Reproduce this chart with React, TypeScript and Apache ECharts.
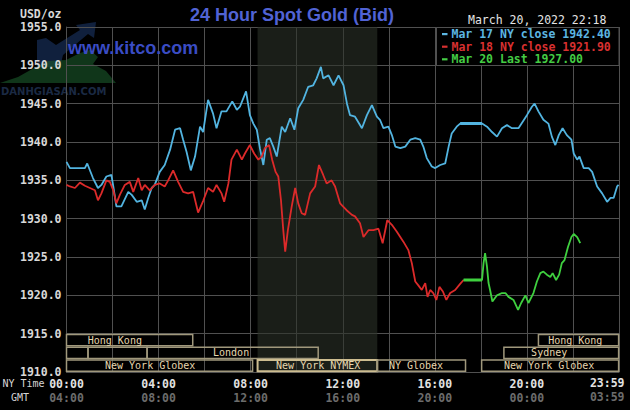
import React, { useEffect, useRef } from 'react';
import * as echarts from 'echarts';

// Minutes after midnight (NY time) and spot gold bid values
const cyanT = [0,9,27,48,54,69,82,91,104,117,122,130,143,161,170,183,196,204,213,222,230,243,256,270,283,296,304,313,324,335,348,356,369,382,391,404,417,432,444,452,468,478,487,496,504,513,522,530,539,548,561,570,583,594,604,617,630,643,652,663,669,683,696,709,722,731,739,752,770,783,796,809,817,826,839,848,857,870,883,896,909,922,930,939,952,961,974,987,996,1004,1017,1026,1083,1096,1109,1122,1135,1148,1161,1178,1200,1213,1220,1230,1243,1256,1265,1274,1283,1293,1304,1316,1322,1331,1337,1348,1361,1370,1383,1396,1409,1418,1426,1435,1439];
const cyanV = [1937.4,1936.6,1936.6,1936.6,1937.2,1935.3,1934.0,1934.4,1935.5,1935.7,1934.2,1931.6,1931.6,1933.5,1933.1,1932.2,1932.4,1931.2,1932.7,1934.0,1934.4,1936.1,1937.0,1939.0,1941.6,1941.8,1940.3,1938.7,1936.3,1938.1,1942.0,1941.3,1945.5,1943.7,1941.8,1944.0,1944.0,1945.3,1944.2,1944.6,1946.6,1943.5,1942.4,1941.6,1939.2,1937.0,1940.3,1940.5,1939.4,1938.1,1942.0,1941.3,1943.1,1941.6,1944.4,1945.5,1947.2,1947.4,1948.3,1949.8,1948.3,1948.7,1947.4,1948.7,1947.4,1945.0,1943.5,1943.3,1941.8,1943.5,1944.8,1943.3,1942.9,1941.8,1942.0,1940.9,1939.4,1939.2,1939.4,1940.3,1940.5,1940.3,1939.4,1937.9,1936.8,1936.6,1937.0,1937.2,1939.4,1941.1,1942.0,1942.4,1942.4,1942.0,1941.3,1940.7,1941.8,1942.2,1941.8,1941.8,1943.5,1944.6,1945.0,1944.0,1942.9,1942.4,1940.7,1939.6,1940.9,1941.8,1940.9,1940.3,1938.5,1937.7,1938.1,1936.6,1936.6,1936.1,1934.2,1933.3,1932.2,1932.7,1932.7,1934.2,1934.4];

const redT = [0,9,22,35,48,61,74,82,91,104,113,122,130,139,152,165,174,187,196,204,217,230,243,256,265,278,291,304,317,330,343,356,369,382,391,404,411,422,430,444,457,465,478,489,500,509,517,528,536,545,552,559,565,570,577,587,596,604,613,622,635,648,658,669,678,691,700,713,730,744,752,765,774,787,800,813,824,836,848,861,878,891,900,909,917,926,935,941,948,956,964,972,981,990,1000,1013,1026,1035];
const redV = [1934.4,1934.2,1934.0,1934.7,1934.3,1934.0,1933.7,1932.4,1933.3,1935.0,1934.8,1933.7,1932.0,1933.1,1934.4,1934.8,1933.5,1935.3,1933.7,1934.4,1933.7,1934.4,1934.6,1934.2,1935.0,1936.3,1934.8,1933.5,1933.3,1933.5,1930.8,1932.3,1934.0,1933.5,1934.4,1933.3,1932.2,1934.6,1937.7,1939.0,1937.7,1938.5,1939.6,1938.5,1937.7,1938.1,1939.2,1939.6,1937.7,1936.1,1935.5,1932.4,1928.5,1925.7,1928.5,1931.6,1934.0,1932.0,1930.7,1930.5,1933.3,1934.2,1937.0,1935.7,1934.6,1935.0,1934.2,1932.0,1931.1,1930.5,1930.3,1929.4,1927.6,1928.5,1928.5,1928.7,1926.8,1929.8,1929.2,1928.3,1927.0,1925.9,1924.2,1921.8,1921.3,1920.7,1921.6,1919.8,1920.7,1920.3,1919.4,1921.1,1920.5,1919.4,1920.3,1920.7,1921.5,1922.0];

const greenT = [1035,1083,1087,1091,1096,1100,1104,1110,1122,1135,1144,1152,1165,1177,1185,1196,1204,1217,1226,1235,1243,1252,1261,1267,1276,1284,1291,1298,1307,1316,1322,1331,1339];
const greenV = [1922.0,1922.0,1924.2,1925.5,1923.7,1921.6,1920.7,1919.2,1920.0,1920.3,1920.3,1919.8,1919.4,1918.1,1919.0,1920.0,1919.0,1920.3,1921.8,1922.9,1923.1,1922.7,1922.4,1922.9,1922.0,1922.7,1924.2,1924.6,1926.3,1927.6,1928.0,1927.6,1926.8];

const seriesNames = ['Mar 17 NY close 1942.40', 'Mar 18 NY close 1921.90', 'Mar 20 Last 1927.00'];

// Market sessions (minutes), row 1 = top
const sessionLabels = ['Hong Kong', '', '', 'London', 'New York Globex', 'New York NYMEX', 'NY Globex', 'New York Globex', 'Sydney', 'Hong Kong'];
const sessionStart = [0, 0, 56, 210, 0, 498, 810, 1082, 1140, 1230];
const sessionEnd = [329, 56, 210, 656, 485, 810, 1040, 1439, 1439, 1439];
const sessionRow = [1, 2, 2, 2, 3, 3, 3, 3, 2, 1];
const sessionLabelAt = [126, 0, 0, 429, 218, 656, 911, 1258, 1258, 1326];

// Shaded COMEX window (minutes)
const comexWindow = [498, 810];

const Y_MIN = 1910;
const Y_MAX = 1955;

const pad = (n: number) => String(n).padStart(2, '0');
const zip = (t: number[], v: number[]) => t.map((x, i) => [x, v[i]]);

const MONO = '"DejaVu Sans Mono", monospace';

export default function App() {
  const ref = useRef<HTMLDivElement>(null);
  useEffect(() => {
    if (!ref.current) return;
    const chart = echarts.init(ref.current, undefined, { renderer: 'svg' });
    const rowH = 5 / 3;
    const sessionData = sessionStart.map((s, i) => [s, sessionEnd[i], sessionRow[i], sessionLabelAt[i]]);
    const legendColors = ['#5cb6e2', '#d83030', '#44cc44'];
    const legendEls: any[] = [];
    seriesNames.forEach((n, i) => {
      const y = 34 + i * 12.6;
      legendEls.push({ type: 'rect', z: 11, shape: { x: 442, y: y - 1, width: 5.5, height: 2.2 }, style: { fill: legendColors[i] } });
      legendEls.push({ type: 'text', z: 11, x: 451.5, y, style: { text: n, fill: legendColors[i], font: `bold 11.5px ${MONO}`, textAlign: 'left', textVerticalAlign: 'middle', align: 'left', verticalAlign: 'middle' } });
    });

    const option: any = {
      animation: false,
      backgroundColor: '#000',
      grid: { left: 66.5, top: 27, width: 552.5, height: 345, containLabel: false },
      xAxis: {
        type: 'value', min: 0, max: 1440, interval: 120,
        axisLine: { show: true, lineStyle: { color: '#505050' } },
        axisTick: { show: false },
        splitLine: { show: true, lineStyle: { color: '#505050', width: 1 } },
        axisLabel: {
          margin: 5,
          formatter: (v: number) => {
            if (v % 240 !== 0 || v >= 1440) return '';
            const h = v / 60;
            return `{a|${pad(h)}:00}\n{b|${pad((h + 4) % 24)}:00}`;
          },
          rich: {
            a: { fontFamily: MONO, fontWeight: 'bold', fontSize: 11.5, color: '#e2e2e2', lineHeight: 14 },
            b: { fontFamily: MONO, fontWeight: 'bold', fontSize: 11.5, color: '#6c6c6c', lineHeight: 14 },
          },
        },
      },
      yAxis: {
        type: 'value', min: Y_MIN, max: Y_MAX, interval: 5,
        axisLine: { show: true, lineStyle: { color: '#505050' } },
        axisTick: { show: false },
        splitLine: { show: true, lineStyle: { color: '#505050', width: 1 } },
        axisLabel: {
          margin: 5,
          formatter: (v: number) => v.toFixed(1),
          fontFamily: MONO, fontWeight: 'bold', fontSize: 11.5, color: '#d8d8d8',
        },
      },
      title: {
        text: '24 Hour Spot Gold (Bid)', left: 190, top: 6, padding: 0,
        textStyle: { fontFamily: '"Liberation Sans", Arial, sans-serif', fontWeight: 'bold', fontSize: 18, color: '#5163d4' },
      },
      series: [
        {
          type: 'line', name: 'comex', data: [], silent: true,
          markArea: { silent: true, itemStyle: { color: 'rgba(44,50,40,0.6)', opacity: 1 }, data: [[{ xAxis: comexWindow[0] }, { xAxis: comexWindow[1] }]] },
        },
        {
          type: 'custom', name: 'sessions', silent: true, clip: false, z: 3,
          data: sessionData,
          renderItem: (params: any, api: any) => {
            const i = params.dataIndex;
            const row = api.value(2);
            const top = 1915 - (row - 1) * rowH;
            const p1 = api.coord([api.value(0), top]);
            const p2 = api.coord([api.value(1), top - rowH]);
            const label = sessionLabels[i];
            const hl = label === 'New York NYMEX';
            const children: any[] = [{
              type: 'rect',
              shape: { x: p1[0], y: p1[1] + 0.75, width: p2[0] - p1[0], height: p2[1] - p1[1] - 1.5 },
              style: { fill: 'none', stroke: hl ? '#cdbd90' : '#a0987c', lineWidth: hl ? 2 : 1.5 },
            }];
            if (label) {
              const pc = api.coord([api.value(3), top - rowH / 2]);
              children.push({
                type: 'text', x: pc[0], y: pc[1],
                style: { text: label, fill: '#e6d6ae', font: `10px ${MONO}`, textAlign: 'center', textVerticalAlign: 'middle', align: 'center', verticalAlign: 'middle' },
              });
            }
            return { type: 'group', children };
          },
        },
        {
          type: 'line', name: seriesNames[0], data: zip(cyanT, cyanV), showSymbol: false, symbol: 'none',
          lineStyle: { color: '#52b4e0', width: 1.8 }, itemStyle: { color: '#52b4e0' }, z: 4,
        },
        {
          type: 'line', name: seriesNames[0] + ' flat', data: zip(cyanT.slice(91, 93), cyanV.slice(91, 93)), symbol: 'none',
          lineStyle: { color: '#52b4e0', width: 3 }, z: 4,
        },
        {
          type: 'line', name: seriesNames[1], data: zip(redT, redV), showSymbol: false, symbol: 'none',
          lineStyle: { color: '#dc2a2a', width: 1.8 }, itemStyle: { color: '#dc2a2a' }, z: 4,
        },
        {
          type: 'line', name: seriesNames[2], data: zip(greenT, greenV), showSymbol: false, symbol: 'none',
          lineStyle: { color: '#3fd03f', width: 1.8 }, itemStyle: { color: '#3fd03f' }, z: 4,
        },
        {
          type: 'line', name: seriesNames[2] + ' flat', data: zip(greenT.slice(0, 2), greenV.slice(0, 2)), symbol: 'none',
          lineStyle: { color: '#3fd03f', width: 3.2 }, z: 4,
        },
      ],
      graphic: [
        // watermark
        { type: 'polygon', z: -5, shape: { points: [[37, 67], [37, 40], [46, 38], [56, 45], [80, 30], [76, 25], [96, 22], [94, 38], [88, 34], [63, 55], [60, 67]] }, style: { fill: '#1a3566', opacity: 0.6 } },
        { type: 'polygon', z: -5, shape: { points: [[0, 83], [18, 77], [34, 68], [48, 61], [66, 60], [80, 53], [90, 50], [98, 57], [93, 64], [106, 71], [116, 83]] }, style: { fill: '#1b5a2c', opacity: 0.6 } },
        { type: 'text', z: -5, x: 1, y: 91.5, style: { text: 'DANHGIASAN.COM', fill: '#1b2a44', font: 'bold 10px "DejaVu Sans", sans-serif', textVerticalAlign: 'middle', verticalAlign: 'middle' } },
        { type: 'text', z: 5, x: 68, y: 48, style: { text: 'www.kitco.com', fill: '#3a4cc4', font: 'bold 18px "Liberation Sans", Arial, sans-serif', textVerticalAlign: 'middle', verticalAlign: 'middle' } },
        { type: 'text', z: 5, x: 61.5, y: 13.5, style: { text: 'USD/oz', fill: '#d8d8d8', font: `bold 11.5px ${MONO}`, textAlign: 'right', align: 'right', textVerticalAlign: 'middle', verticalAlign: 'middle' } },
        { type: 'text', z: 5, x: 468, y: 20, style: { text: 'March 20, 2022 22:18', fill: '#e4e4e4', font: `11.5px ${MONO}`, textVerticalAlign: 'middle', verticalAlign: 'middle' } },
        { type: 'rect', z: 10, shape: { x: 436.5, y: 27.5, width: 182.5, height: 38 }, style: { fill: '#000', stroke: '#505050', lineWidth: 1 } },
        ...legendEls,
        { type: 'text', z: 5, x: 2.5, y: 383, style: { text: 'NY Time', fill: '#d6d6d6', font: `10px ${MONO}`, textVerticalAlign: 'middle', verticalAlign: 'middle' } },
        { type: 'text', z: 5, x: 11, y: 397.5, style: { text: 'GMT', fill: '#d6d6d6', font: `10px ${MONO}`, textVerticalAlign: 'middle', verticalAlign: 'middle' } },
        { type: 'text', z: 5, x: 624.5, y: 383, style: { text: '23:59', fill: '#e2e2e2', font: `bold 11.5px ${MONO}`, textAlign: 'right', align: 'right', textVerticalAlign: 'middle', verticalAlign: 'middle' } },
        { type: 'text', z: 5, x: 624.5, y: 397, style: { text: '03:59', fill: '#6c6c6c', font: `bold 11.5px ${MONO}`, textAlign: 'right', align: 'right', textVerticalAlign: 'middle', verticalAlign: 'middle' } },
      ],
    };
    chart.setOption(option);
    return () => chart.dispose();
  }, []);
  return (
    <div
      ref={ref}
      style={{ position: 'fixed', left: 0, top: 0, width: 630, height: 410, background: '#000' }}
    />
  );
}
